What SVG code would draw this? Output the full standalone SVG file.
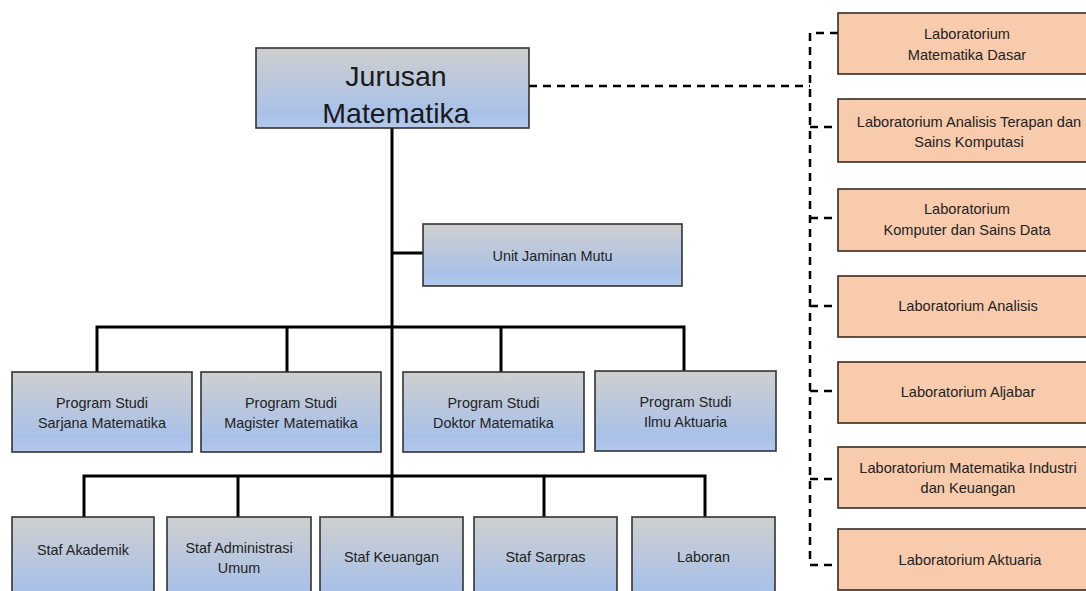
<svg xmlns="http://www.w3.org/2000/svg" width="1086" height="591" viewBox="0 0 1086 591">
<defs>
<linearGradient id="blueGrad" x1="0" y1="0" x2="0" y2="1">
<stop offset="0" stop-color="#cfcfcf"/>
<stop offset="0.8" stop-color="#a9c1e8"/>
<stop offset="1" stop-color="#b3c8ec"/>
</linearGradient>
<style>
.bx{fill:url(#blueGrad);stroke:#333;stroke-width:1.6}
.lab{fill:#f8cbad;stroke:#3a2a20;stroke-width:1.6}
.t{font-family:"Liberation Sans",Arial,sans-serif;fill:#222;text-anchor:middle;font-size:14.4px}
.tl{font-family:"Liberation Sans",Arial,sans-serif;fill:#222;text-anchor:middle;font-size:14.6px}
.tm{font-family:"Liberation Sans",Arial,sans-serif;fill:#1a1a1a;text-anchor:middle;font-size:28.5px}
.ln{stroke:#000;stroke-width:3;fill:none}
.dl{stroke:#000;stroke-width:2.5;fill:none;stroke-dasharray:8 6}
</style>
</defs>
<rect width="1086" height="591" fill="#fff"/>

<g id="connectors">
<path class="ln" d="M392 128 V476"/>
<path class="ln" d="M392 253 H423"/>
<path class="ln" d="M97 372 V327 H684 V372"/>
<path class="ln" d="M287 327 V372"/>
<path class="ln" d="M501 327 V372"/>
<path class="ln" d="M84 517 V476 H705 V517"/>
<path class="ln" d="M238 476 V517"/>
<path class="ln" d="M392 476 V517"/>
<path class="ln" d="M544 476 V517"/>
<path class="dl" d="M529 86 H810"/>
<path class="dl" d="M838 33 H810 V565 H838"/>
<path class="dl" d="M810 127 H838"/>
<path class="dl" d="M810 218 H838"/>
<path class="dl" d="M810 306 H838"/>
<path class="dl" d="M810 391 H838"/>
<path class="dl" d="M810 479 H838"/>
</g>

<g id="jurusan">
<rect class="bx" x="256" y="48" width="273" height="80"/>
<text class="tm" x="396" y="86">Jurusan</text>
<text class="tm" x="396" y="123">Matematika</text>
</g>

<g id="unit-jaminan-mutu">
<rect class="bx" x="423" y="224" width="259" height="62"/>
<text class="t" x="552.5" y="261">Unit Jaminan Mutu</text>
</g>

<g id="ps-sarjana">
<rect class="bx" x="12" y="372" width="180" height="80"/>
<text class="t" x="102" y="408">Program Studi</text>
<text class="t" x="102" y="428">Sarjana Matematika</text>
</g>
<g id="ps-magister">
<rect class="bx" x="201" y="372" width="180" height="80"/>
<text class="t" x="291" y="408">Program Studi</text>
<text class="t" x="291" y="428">Magister Matematika</text>
</g>
<g id="ps-doktor">
<rect class="bx" x="403" y="372" width="181" height="80"/>
<text class="t" x="493.5" y="408">Program Studi</text>
<text class="t" x="493.5" y="428">Doktor Matematika</text>
</g>
<g id="ps-aktuaria">
<rect class="bx" x="595" y="371" width="181" height="80"/>
<text class="t" x="685.5" y="407">Program Studi</text>
<text class="t" x="685.5" y="427">Ilmu Aktuaria</text>
</g>

<g id="staf-akademik">
<rect class="bx" x="12" y="517" width="142" height="90"/>
<text class="t" x="83" y="555">Staf Akademik</text>
</g>
<g id="staf-administrasi">
<rect class="bx" x="167" y="517" width="144" height="90"/>
<text class="t" x="239" y="553">Staf Administrasi</text>
<text class="t" x="239" y="573">Umum</text>
</g>
<g id="staf-keuangan">
<rect class="bx" x="320" y="517" width="143" height="90"/>
<text class="t" x="391.5" y="562">Staf Keuangan</text>
</g>
<g id="staf-sarpras">
<rect class="bx" x="474" y="517" width="143" height="90"/>
<text class="t" x="545.5" y="562">Staf Sarpras</text>
</g>
<g id="laboran">
<rect class="bx" x="632" y="517" width="143" height="90"/>
<text class="t" x="703.5" y="562">Laboran</text>
</g>

<g id="lab-matematika-dasar">
<rect class="lab" x="838" y="13" width="260" height="61"/>
<text class="tl" x="967" y="39">Laboratorium</text>
<text class="tl" x="967" y="60">Matematika Dasar</text>
</g>
<g id="lab-analisis-terapan">
<rect class="lab" x="838" y="99" width="260" height="63"/>
<text class="tl" x="969" y="127">Laboratorium Analisis Terapan dan</text>
<text class="tl" x="969" y="147">Sains Komputasi</text>
</g>
<g id="lab-komputer">
<rect class="lab" x="838" y="189" width="260" height="62"/>
<text class="tl" x="967" y="214">Laboratorium</text>
<text class="tl" x="967" y="235">Komputer dan Sains Data</text>
</g>
<g id="lab-analisis">
<rect class="lab" x="838" y="276" width="260" height="61"/>
<text class="tl" x="968" y="311">Laboratorium Analisis</text>
</g>
<g id="lab-aljabar">
<rect class="lab" x="838" y="362" width="260" height="61"/>
<text class="tl" x="968" y="397">Laboratorium Aljabar</text>
</g>
<g id="lab-industri-keuangan">
<rect class="lab" x="838" y="447" width="260" height="61"/>
<text class="tl" x="968" y="473">Laboratorium Matematika Industri</text>
<text class="tl" x="968" y="493">dan Keuangan</text>
</g>
<g id="lab-aktuaria">
<rect class="lab" x="838" y="529" width="260" height="61"/>
<text class="tl" x="970" y="565">Laboratorium Aktuaria</text>
</g>
</svg>
